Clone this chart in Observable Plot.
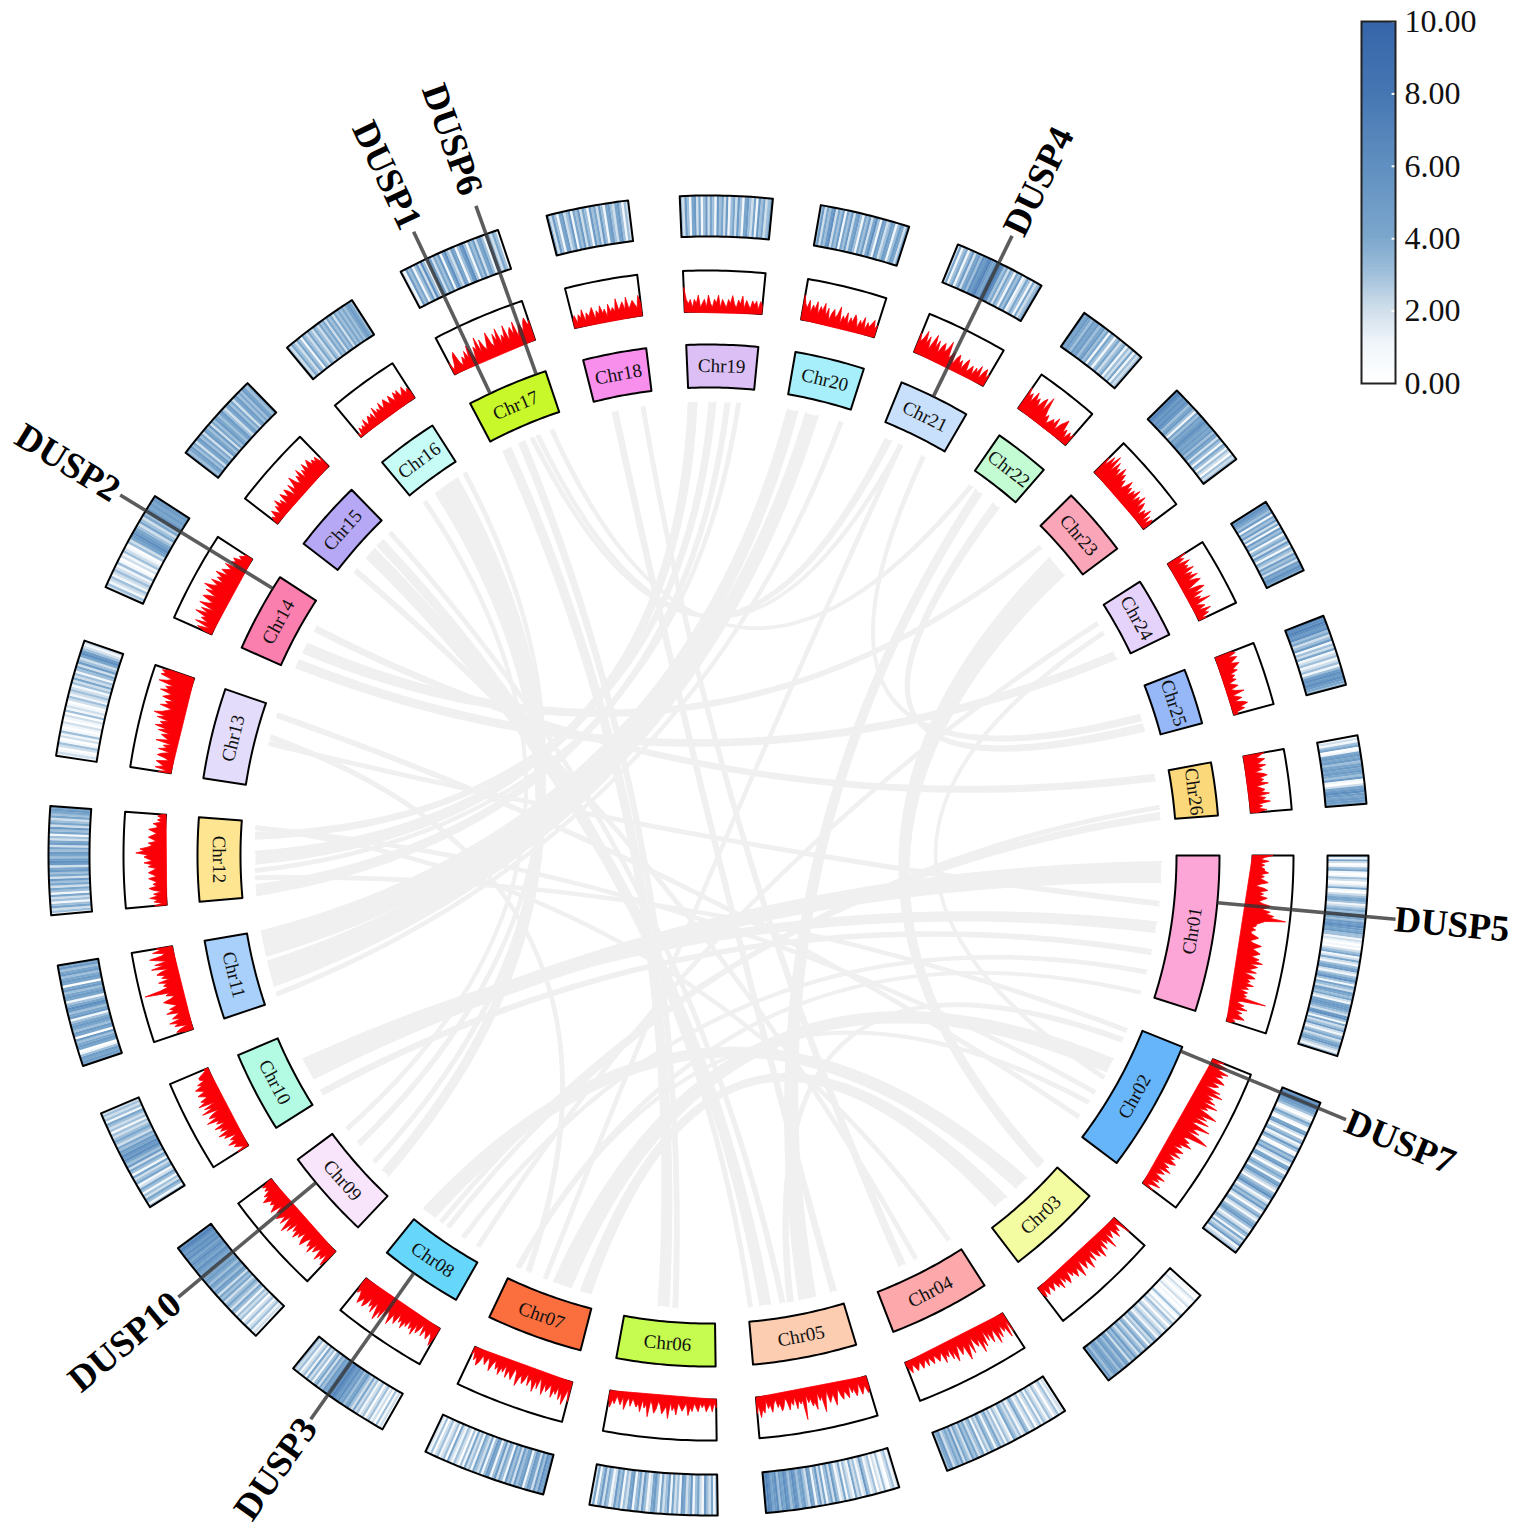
<!DOCTYPE html>
<html><head><meta charset="utf-8">
<style>html,body{margin:0;padding:0;background:#fff}#wrap{position:relative;width:1518px;height:1532px;overflow:hidden}#wrap svg{display:block}#legend{position:absolute;left:1340px;top:0}</style>
<script src="https://cdn.jsdelivr.net/npm/d3@7"></script>
<script src="https://cdn.jsdelivr.net/npm/@observablehq/plot@0.6"></script>
</head><body><div id="wrap"><div id="main"></div><div id="legend"></div></div>
<script>
const chrNames=["Chr01","Chr02","Chr03","Chr04","Chr05","Chr06","Chr07","Chr08","Chr09","Chr10","Chr11","Chr12","Chr13","Chr14","Chr15","Chr16","Chr17","Chr18","Chr19","Chr20","Chr21","Chr22","Chr23","Chr24","Chr25","Chr26"];
const chrStart=[90,112,131.8,147.3,163.2,179.2,194.5,209.6,223.3,237.8,251.4,264.8,278.7,294,307.6,320.3,332.2,345.8,357.5,369.8,382.2,394.7,405.2,417.6,428.7,439.5];
const chrEnd=[107.7,127,142.7,158.8,175,190.4,205.4,219,233.5,247,260.4,274.3,289,303,315.7,327.3,341.4,353,365.6,377.7,390.3,401,413.1,424.4,435,445.5];
const chrColors=["#fca6d8","#66b5fb","#f3fca0","#fda9ab","#fccdb1","#c6fb50","#fb6f3e","#66d7fb","#f8e5fb","#b3fbe3","#a8d0fb","#fde591","#e3dcfb","#fb7fae","#b7a8f5","#c6fbf6","#c8f72a","#f98fed","#dcbff5","#a6effb","#c8e0fb","#c3fbd3","#fba6b8","#e6d3fb","#96b8f8","#fbd97a"];

const heat01=[3,1,4,2,0,1,3,4,1,0,1,3,2,0,1,2,4,1,0,2,3,4,4,3,1,2,3,4,3,4,5,4,3,5,5,6,5,4,5,3,3,1,2,1,0,1,0,2,3,4,1,2,4,2,1,3,4,5,2,1,3,4,6,3,1,4,3,2,5,4,3,4,2,1,4,5,5,4,3,2,5,6,3,1,4,2,3,5,2,1,3,4,2,3,4,5,3,2,1,3];
const heat02=[5,6,5,6,5,4,3,1,0,2,4,3,1,0,4,5,2,0,3,4,1,2,5,3,0,1,4,3,5,2,1,4,5,2,0,3,4,3,1,4,5,3,2,0,3,4,6,3,1,2,4,3,5,2,0,3,4,2,1,3,4,5,3,1,2,4,3,1,4,2,3,5,1,2,3];
const heat03=[0,1,0,2,1,0,1,2,0,1,0,1,3,1,0,2,1,3,2,0,2,3,1,2,3,2,1,3,4,2,3,1,3,4,2,3,4,2,3,5,3,4,2,4,5,3,4,5,3,4,5,4,3,5,4];
const heat04=[1,2,1,3,2,0,2,3,1,2,3,1,3,2,0,3,2,1,3,4,2,1,3,2,3,4,1,2,3,1,3,2,4,3,1,3,4,2,3,1,4,3,2,4,3,5,2,3,4,2,5,3,4,3,2,5,4,3];
const heat05=[2,1,3,2,0,1,3,1,2,0,3,2,1,3,5,2,1,3,2,4,1,2,3,1,4,2,1,3,5,2,4,3,1,4,2,5,3,1,4,5,2,3,5,4,3,5,6,4,3,5,6,4,5,3,6,5,4,6,7,6];
const heat06=[3,1,4,2,3,5,1,2,4,3,1,5,3,2,4,5,1,3,2,4,1,5,3,2,4,1,3,5,4,2,1,3,5,2,4,3,1,5,4,2,3,1,4,3,5,2,1,3,4,2,5,3,1,4,2];
const heat07=[5,4,6,3,5,2,4,5,3,1,5,4,3,5,2,4,3,5,1,3,4,2,5,3,1,4,5,3,1,4,2,3,4,1,3,2,4,1,3,0,2,3,1,2,4,0,3,2,1,3,2,0,3,1,2];
const heat08=[0,2,1,3,0,2,1,3,2,0,3,2,1,3,2,4,2,3,5,4,3,5,4,6,5,6,7,6,5,6,4,5,3,4,2,4,3,1,3,2,4,1,3,2,1,3,2,3];
const heat09=[1,2,1,3,2,1,3,2,0,3,2,3,1,3,4,2,3,4,3,2,4,3,4,2,4,5,3,4,5,3,4,5,4,3,5,4,5,6,4,5,6,5,4,6,5,6,5,6,7,6];
const heat10=[3,1,3,4,2,3,1,3,4,2,1,4,3,2,4,1,3,4,2,5,3,4,6,5,6,4,5,3,4,2,3,4,3,2,3,1,3,2,3,4,1,3,2,3,2];
const heat11=[4,5,4,5,3,1,0,4,5,4,3,5,0,4,5,3,4,5,4,3,1,5,4,3,5,6,4,3,1,4,5,4,3,5,4,0,4,5,4,3,5,4,3,5,4];
const heat12=[1,3,2,4,3,1,3,2,4,1,3,4,2,4,3,5,2,4,3,5,4,2,5,6,5,3,4,5,3,4,2,5,4,2,3,1,4,3,5,2,4,3,2,4,3,4,5,4];
const heat13=[1,2,1,0,2,3,1,0,2,1,3,1,0,1,2,0,1,2,0,3,1,2,1,0,2,3,1,2,3,2,1,3,2,4,2,3,1,3,4,2,5,3,2,4,6,5,3,2,1,2];
const heat14=[2,3,1,2,3,1,2,3,2,1,3,1,0,2,1,3,2,1,0,3,2,4,5,6,5,4,3,2,4,3,2,4,3,4,5,4,5,4,5,5];
const heat15=[4,3,4,5,3,4,2,4,5,3,4,2,5,4,3,5,2,4,3,5,4,3,4,5,3,2,4,5,3,4,2,4,5,3,4,3,5,4,3,4];
const heat16=[3,2,4,3,2,4,3,1,4,3,2,4,3,2,4,3,2,4,3,4,2,4,3,4,2,4,3,4,3,4,3,4,5,4,3];
const heat17=[2,1,5,3,4,1,3,5,2,6,3,1,4,5,2,4,3,5,1,4,6,3,2,5,4,1,3,5,6,3,1,4,3,5,2,4,5,3,1,4,3,2,4,3,1];
const heat18=[4,2,5,3,1,4,5,2,3,5,1,4,3,5,2,4,3,1,5,3,4,2,5,3,1,4,5,3,2,4,5,3,1,3,2];
const heat19=[3,2,5,3,1,4,5,2,4,1,3,5,2,4,3,1,5,3,4,2,5,1,3,4,2,5,3,1,4,5,3,2,4,1,5,3,4,2,3,4];
const heat20=[3,5,2,4,3,5,6,2,4,3,5,1,4,3,5,2,4,5,3,1,4,3,5,2,4,6,3,1,5,4,2,3,5,4,1,3,5,4,2,4];
const heat21=[2,4,1,3,4,1,3,5,2,4,5,3,6,5,6,7,5,4,6,5,7,6,3,4,2,4,3,1,4,3,5,1,2,4,3,1,4,2,3,4];
const heat22=[5,4,5,4,3,5,4,5,3,4,5,3,4,1,4,3,1,3,4,2,3,4,1,3,2,4,1,3,2,3];
const heat23=[6,7,6,5,6,5,6,5,3,4,5,3,1,4,3,5,4,5,6,5,4,5,4,5,3,5,4,2,4,3,1,4,3,1,3,2,0,3,2,3];
const heat24=[5,6,5,4,3,5,1,4,3,5,2,4,1,5,3,4,1,3,4,2,5,3,1,4,3,2,5,3,4,2,5,4,6,5,4];
const heat25=[7,6,7,6,5,6,3,4,2,3,5,1,3,2,4,1,2,3,1,2,3,1,3,5,6,5,6,5,4,3];
const heat26=[0,2,1,3,4,0,1,4,5,4,5,3,4,5,4,5,4,3,5,1,0,2,4,5,6,5,4,5,5,4];

const dens01=[5,3,2,4,2,3,2,3,3,4,2,3,2,3,4,2,1,3,4,2,3,2,4,3,2,3,5,4,3,5,4,6,5,9,4,3,2,2,1,2,1,1,2,3,2,1,2,4,3,2,3,4,3,2,4,3,5,2,4,3,2,4,1,3,4,2,3,2,4,2,3,1,3,2,3,2,8,2,1,3,2,4,1,3,2,3,4,1,2,1];
const dens02=[3,1,4,3,2,5,3,4,2,4,5,2,4,3,1,5,3,6,2,4,3,5,2,6,3,4,2,5,7,3,5,2,6,3,2,7,4,3,5,2,6,8,3,2,4,3,5,2,3,1,4,3,2,4,1,3,2,4,3,1,3,2,4,1,3,2,1,4,2,3,1,4,2,1,3];
const dens03=[5,2,1,3,2,4,1,2,3,1,5,2,3,1,4,2,3,5,2,4,3,1,4,2,3,5,2,3,4,1,3,5,2,3,4,2,3,1,3,4,2,3,1,4,2,3,1,2,3,1,2,3,1,3,2];
const dens04=[5,2,6,3,4,2,5,3,6,2,3,5,2,4,1,5,3,6,2,4,3,1,5,2,4,6,2,3,4,1,3,5,2,4,1,3,2,4,1,2,3,2,1,3,2,1,3,1,2,3,1,2,3,2,1,3,2,1];
const dens05=[3,4,2,3,4,1,3,4,2,3,1,4,3,2,4,3,1,3,5,2,3,4,1,3,6,2,3,1,5,3,4,2,3,1,7,2,3,2,4,1,3,2,4,2,1,3,4,2,3,1,2,4,2,3,1,4,3,5,2,4];
const dens06=[2,1,3,1,2,3,1,2,1,3,2,1,3,2,4,1,2,3,2,1,4,2,3,1,5,2,3,4,2,1,3,4,2,1,5,2,3,1,4,2,3,2,1,3,1,2,4,1,3,2,1,3,2,4,2];
const dens07=[5,2,4,6,3,5,2,4,3,5,2,3,4,2,5,3,1,4,2,5,3,2,4,1,3,4,2,3,5,2,1,4,3,2,4,1,3,2,4,2,3,1,2,4,2,1,3,2,1,3,4,2,3,1,2];
const dens08=[2,5,3,2,4,3,2,4,1,3,4,2,5,3,4,2,4,3,5,3,4,2,5,4,3,6,4,3,5,3,6,4,7,5,3,6,4,5,3,5,6,4,5,6,4,3,4,2];
const dens09=[3,5,2,4,3,5,2,3,4,2,5,3,4,2,3,5,4,2,4,3,5,3,4,2,5,3,6,4,2,5,3,4,5,3,4,2,5,4,3,4,3,4,5,3,4,2,3,2,3,1];
const dens10=[3,1,2,3,2,4,2,3,1,4,3,5,2,4,3,5,2,4,3,6,3,5,4,2,6,3,5,2,6,4,5,3,4,5,3,4,5,3,4,2,3,3,2,1,1];
const dens11=[2,4,3,1,4,3,5,2,4,3,2,5,3,4,2,3,4,5,3,2,4,3,9,5,3,4,3,5,2,4,3,5,4,2,6,3,5,2,4,6,3,2,5,3,4];
const dens12=[3,1,3,2,4,2,3,1,3,4,2,3,2,3,4,2,3,4,3,2,4,3,5,3,4,5,4,7,5,6,4,3,4,2,3,4,3,2,3,4,2,2,3,1,2,1,2,1];
const dens13=[3,1,4,2,3,4,1,2,4,3,1,4,2,3,1,5,2,3,4,2,5,3,6,4,5,3,6,4,7,5,4,3,6,4,5,3,6,5,4,7,5,6,4,8,6,5,8,7,8,6];
const dens14=[2,4,1,5,2,4,3,6,3,5,2,6,4,3,6,5,3,6,4,7,5,4,6,3,5,4,6,3,5,4,3,5,2,4,3,4,2,3,2,2];
const dens15=[1,2,1,3,2,1,3,2,4,2,3,1,4,3,2,4,3,1,4,2,3,5,3,2,4,3,5,2,4,3,5,3,4,5,3,4,3,4,2,3];
const dens16=[1,0,2,1,2,1,3,1,2,3,2,3,1,4,2,3,2,4,2,3,4,3,2,4,3,2,4,3,4,2,3,4,2,3,2];
const dens17=[3,1,2,4,5,2,1,3,2,4,2,5,3,1,4,3,6,2,5,3,2,4,6,3,2,5,3,6,2,4,3,6,2,4,5,3,6,2,4,5,3,5,6,4,5];
const dens18=[2,3,1,3,2,4,1,3,2,3,4,1,3,2,4,2,3,1,4,2,3,2,5,2,3,4,2,5,2,3,4,3,2,5,3];
const dens19=[6,3,2,3,1,3,2,4,1,2,3,1,4,2,1,3,2,4,1,3,2,1,3,2,4,2,1,3,2,4,1,3,2,1,3,2,3,1,3,2];
const dens20=[6,4,3,5,2,4,3,5,2,4,3,5,2,4,1,3,4,2,3,5,1,3,2,4,1,3,2,4,3,1,3,2,4,1,3,2,3,4,2,3];
const dens21=[5,3,4,6,3,5,2,4,6,3,5,2,4,5,3,4,6,2,3,4,1,3,4,2,3,1,3,4,1,2,3,1,3,2,4,1,3,4,2,3];
const dens22=[6,4,5,3,6,4,5,3,5,6,3,7,4,2,3,1,2,3,2,4,1,3,4,5,2,3,1,3,2,3];
const dens23=[5,3,6,4,7,3,6,4,5,3,6,4,5,3,4,2,3,5,3,4,2,4,3,5,2,4,3,5,2,4,3,1,3,2,4,1,3,1,3,2];
const dens24=[5,3,4,2,5,3,4,3,5,2,4,3,5,2,4,5,3,1,4,5,2,4,1,3,2,5,1,2,3,1,4,2,3,1,2];
const dens25=[4,5,3,5,4,3,5,4,3,4,2,3,2,3,1,2,3,1,2,4,1,2,3,1,3,4,2,3,1,1];
const dens26=[5,4,3,5,4,3,5,3,4,2,4,5,3,4,3,5,2,3,4,3,5,2,4,3,5,2,3,2,4,2];

const linkFrom=[254.9,258.8,252.2,323.9,325.6,321.3,327.5,311.8,313.6,315.4,308.9,358,0.5,2.4,3.8,333.6,335.7,337.1,337.9,339.8,297.2,295,300,284.3,285.1,288,348.1,351.7,50.3,136.3,139.8,198.8,241.3,242.8,238.5,167.4,169.6,73.6,72.3,60.6,59.2,85,83.9,104.9,107.6,112.7,121.5,123,148,201.1];
const linkFromWidth=[25,25,3,14,12,3,3,12,8,3,4,8,6,4,3,8,6,3,3,3,10,8,5,3,4,4,5,3,22,14,14,18,12,8,5,16,5,7,6,3,3,6,3,3,2,3,3,3,3,3];
const linkTo=[13.2,10.7,17,225.5,227.5,232.9,230.5,172.8,174.7,170.6,152.8,269.7,272.5,265.6,268.1,185.7,184.2,23.4,25.1,35.4,47.1,63.8,80.1,96.1,203.4,125.2,164,154.7,132.9,218,195.7,117.6,92.1,99.1,102.3,36.6,114,39.4,28.3,119.3,210.5,216.1,215,212.7,204.8,267.2,273.5,204.8,273.5,25.1];
const linkToWidth=[12,10,3,8,3,3,4,10,3,4,3,12,6,10,3,10,4,6,3,3,3,7,6,4,4,3,5,6,8,14,10,14,20,10,4,7,4,7,3,3,3,3,3,3,4,3,3,3,3,3];

const geneNames=["DUSP1","DUSP6","DUSP4","DUSP2","DUSP5","DUSP7","DUSP10","DUSP3"];
const geneAngles=[334.7,340.3,26.1,301.5,95.3,112.5,230.2,215.2];
const geneLabelRadius=[695,703,693,694,689,691,693,693];
const legendTicks=[0,2,4,6,8,10];
const colorStops=[0,1,2,3,4,6,8,10];
const colorRange=["#ffffff","#f1f6fa","#cfdeeb","#9fbfda","#7ba6cc","#5f8fc0","#4676b2","#3565a9"];

const heats=[heat01,heat02,heat03,heat04,heat05,heat06,heat07,heat08,heat09,heat10,heat11,heat12,heat13,heat14,heat15,heat16,heat17,heat18,heat19,heat20,heat21,heat22,heat23,heat24,heat25,heat26];
const denses=[dens01,dens02,dens03,dens04,dens05,dens06,dens07,dens08,dens09,dens10,dens11,dens12,dens13,dens14,dens15,dens16,dens17,dens18,dens19,dens20,dens21,dens22,dens23,dens24,dens25,dens26];

const serif='"Liberation Serif","Times New Roman",serif';
const R={linkEnd:453,chr:[468,511],dens:[544,585],heat:[619,660],geneIn:511,geneOut:690};
const rad=a=>a*Math.PI/180;
const px=(a,r)=>r*Math.sin(rad(a));
const py=(a,r)=>r*Math.cos(rad(a));

function box(a0,a1,r0,r1,id){
  const pts=[],n=Math.max(2,Math.ceil((a1-a0)*2));
  for(let i=0;i<=n;i++){const a=a0+(a1-a0)*i/n;pts.push({x:px(a,r1),y:py(a,r1),id})}
  for(let i=n;i>=0;i--){const a=a0+(a1-a0)*i/n;pts.push({x:px(a,r0),y:py(a,r0),id})}
  pts.push(pts[0]);
  return pts;
}
const chrs=chrNames.map((name,i)=>({name,i,a0:chrStart[i],a1:chrEnd[i],color:chrColors[i]}));
const heatFrames=chrs.flatMap(c=>box(c.a0,c.a1,R.heat[0],R.heat[1],c.name));
const densFrames=chrs.flatMap(c=>box(c.a0,c.a1,R.dens[0],R.dens[1],c.name));

const heatCells=chrs.flatMap(c=>{const v=heats[c.i],n=v.length,da=(c.a1-c.a0)/n;
  return v.map((value,k)=>{const a=c.a0+da*(k+.5);
    return {v:value,x1:px(a,R.heat[0]),y1:py(a,R.heat[0]),x2:px(a,R.heat[1]),y2:py(a,R.heat[1]),w:rad(da)*640+.3}})});

const densPolys=chrs.flatMap(c=>{const v=denses[c.i],n=v.length,da=(c.a1-c.a0)/(n-1),h=R.dens[1]-R.dens[0];
  const pts=[{x:px(c.a0,R.dens[0]),y:py(c.a0,R.dens[0]),id:c.name}];
  v.forEach((value,k)=>{const a=c.a0+da*k,r=R.dens[0]+h*value/10;pts.push({x:px(a,r),y:py(a,r),id:c.name})});
  pts.push({x:px(c.a1,R.dens[0]),y:py(c.a1,R.dens[0]),id:c.name});
  pts.push(pts[0]);
  return pts});

const PXDEG=7.9,BEND=0.15;
function edge(a,b,off,nx,ny,id){
  const P0=[px(a,R.linkEnd),py(a,R.linkEnd)],P2=[px(b,R.linkEnd),py(b,R.linkEnd)];
  const C=[BEND*(P0[0]+P2[0])/2+off*nx,BEND*(P0[1]+P2[1])/2+off*ny],out=[];
  for(let i=0;i<=36;i++){const t=i/36,u=1-t;
    out.push({x:u*u*P0[0]+2*u*t*C[0]+t*t*P2[0],y:u*u*P0[1]+2*u*t*C[1]+t*t*P2[1],id})}
  return out;
}
const linkPts=linkFrom.flatMap((a,i)=>{
  const b=linkTo[i],da=linkFromWidth[i]/PXDEG/2,db=linkToWidth[i]/PXDEG/2;
  const lo=Math.min(a,b),hi=Math.max(a,b),dl=a<b?da:db,dh=a<b?db:da;
  const m=(lo+hi)/2,nx=Math.sin(rad(m)),ny=Math.cos(rad(m));
  const off=(linkFromWidth[i]+linkToWidth[i])/2*0.25;
  return [...edge(lo+dl,hi-dh,off,nx,ny,i),...edge(hi+dh,lo-dl,-off,nx,ny,i)];
});

const genes=geneNames.map((name,i)=>{const a=geneAngles[i],right=a<180,lr=geneLabelRadius[i];
  return {name,right,x1:px(a,R.geneIn),y1:py(a,R.geneIn),x2:px(a,R.geneOut),y2:py(a,R.geneOut),
    tx:px(a,lr),ty:py(a,lr),rot:right?a-90:a-270}});
const labels=chrs.map(c=>{const a=((c.a0+c.a1)/2)%360;
  return {name:c.name,x:px(a,489.5),y:py(a,489.5),rot:(a>90&&a<270)?a-180:(a>=270?a-360:a)}});
const geneTextOpts={x:"tx",y:"ty",text:"name",rotate:"rot",fontSize:37,fontWeight:"bold",fill:"#000",fontFamily:serif};

const main=Plot.plot({
  width:1518,height:1532,margin:0,
  x:{domain:[-708,810],range:[0,1518],axis:null},
  y:{domain:[855,-677],range:[0,1532],axis:null},
  color:{type:"linear",domain:colorStops,range:colorRange,interpolate:"rgb"},
  style:{background:"#fff",fontFamily:serif},
  marks:[
    Plot.line(linkPts,{x:"x",y:"y",z:"id",fill:"#f0f0f0",stroke:"#f0f0f0",strokeWidth:2}),
    ...chrs.map(c=>Plot.line(box(c.a0,c.a1,R.chr[0],R.chr[1],c.name),{x:"x",y:"y",fill:c.color,stroke:"#000",strokeWidth:2})),
    Plot.line(densFrames,{x:"x",y:"y",z:"id",fill:"#fff",stroke:"#000",strokeWidth:2}),
    Plot.line(densPolys,{x:"x",y:"y",z:"id",fill:"#fb0007",stroke:"#fb0007",strokeWidth:0.8}),
    Plot.link(heatCells,{x1:"x1",y1:"y1",x2:"x2",y2:"y2",stroke:"v",strokeWidth:"w"}),
    Plot.line(heatFrames,{x:"x",y:"y",z:"id",stroke:"#000",strokeWidth:2}),
    Plot.link(genes,{x1:"x1",y1:"y1",x2:"x2",y2:"y2",stroke:"#333",strokeWidth:3.6,strokeOpacity:.8}),
    Plot.text(labels,{x:"x",y:"y",text:"name",rotate:"rot",fontSize:19,fill:"#111",fontFamily:serif}),
    Plot.text(genes.filter(d=>d.right),{...geneTextOpts,textAnchor:"start"}),
    Plot.text(genes.filter(d=>!d.right),{...geneTextOpts,textAnchor:"end"})
  ]
});
document.getElementById("main").append(main);

const steps=d3.range(0,10,0.1);
const legend=Plot.plot({
  width:178,height:400,marginLeft:21,marginRight:123,marginTop:21,marginBottom:17,
  x:{domain:[0,1],axis:null},
  y:{domain:[0,10]},
  color:{type:"linear",domain:colorStops,range:colorRange,interpolate:"rgb"},
  style:{background:"transparent",fontFamily:serif,overflow:"visible"},
  marks:[
    Plot.rect(steps,{x1:0,x2:1,y1:d=>d,y2:d=>Math.min(10,d+0.25),fill:d=>d}),
    Plot.ruleY(legendTicks,{x1:.9,x2:1,stroke:"#fff",strokeWidth:2}),
    Plot.frame({stroke:"#222",strokeWidth:2}),
    Plot.axisY(legendTicks,{anchor:"right",tickFormat:d3.format(".2f"),tickSize:0,tickPadding:9,fontSize:32,label:null,fill:"#111"})
  ]
});
document.getElementById("legend").append(legend);
</script></body></html>
